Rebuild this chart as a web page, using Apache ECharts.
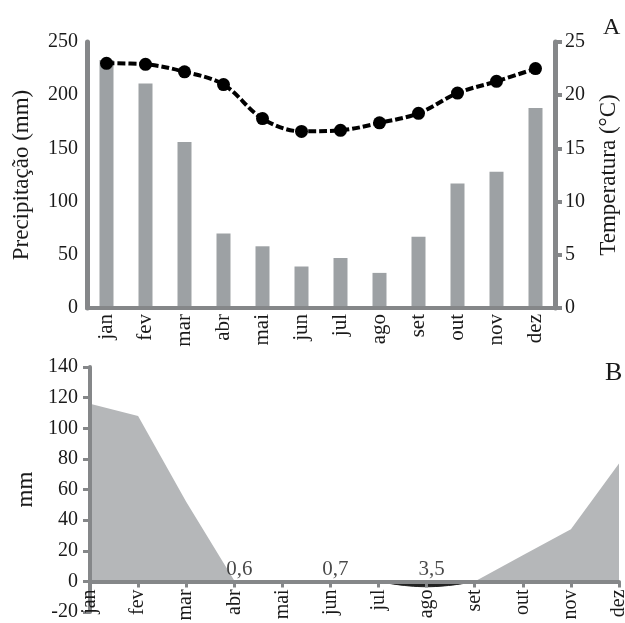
<!DOCTYPE html>
<html>
<head>
<meta charset="utf-8">
<script src="https://cdn.jsdelivr.net/npm/echarts@6/dist/echarts.min.js"></script>
<style>
html,body{margin:0;padding:0;background:#fff;}
#chart{width:625px;height:623px;}
</style>
</head>
<body>
<div id="chart"></div>
<script>
const months = ['jan','fev','mar','abr','mai','jun','jul','ago','set','out','nov','dez'];
const precipitation = [233,211,156,70,58,39,47,33,67,117,128,188];
const temperature = [23.0,22.9,22.2,21.0,17.8,16.6,16.7,17.4,18.3,20.2,21.3,22.5];
const surplus = [116,108,52,0.6,0,0.7,0,0,0,17,34,77];
const deficit = [null,null,null,null,null,null,0,-3.5,0,null,null,null];
const annotLabels = ['','','','0,6','','0,7','','3,5','','','',''];
const precipTicks = [0,50,100,150,200,250];
const tempTicks = [0,5,10,15,20,25];
const balanceTicks = [-20,0,20,40,60,80,100,120,140];

const FONT = 'Liberation Serif';
const AX = '#858789';
const TXT = '#1a1a1a';

const BOTTOM_H = 245;
const balMin = balanceTicks[0], balMax = balanceTicks[balanceTicks.length-1];
// x axis of chart B sits on the zero line
const zeroOffset = -BOTTOM_H * (0 - balMin) / (balMax - balMin);

const chart = echarts.init(document.getElementById('chart'), null, {renderer:'canvas'});
const annotData = annotLabels.map(s => s ? 0 : null);

chart.setOption({
  animation:false,
  backgroundColor:'#fff',
  textStyle:{fontFamily:FONT},
  grid:[
    {left:87, right:70, top:42, height:266, containLabel:false, outerBoundsMode:'none'},
    {left:90, right:6, top:367, height:BOTTOM_H, containLabel:false, outerBoundsMode:'none'}
  ],
  xAxis:[
    {type:'category', gridIndex:0, data:months, boundaryGap:true, z:3,
     axisLine:{lineStyle:{color:AX, width:4}},
     axisTick:{show:false},
     axisLabel:{rotate:90, margin:6, fontSize:21, color:TXT, fontFamily:FONT}},
    {type:'category', gridIndex:1, data:months, boundaryGap:false, position:'bottom', offset:zeroOffset, z:3,
     axisLine:{onZero:false, lineStyle:{color:AX, width:4}},
     axisTick:{show:true, alignWithLabel:true, length:6, lineStyle:{color:AX, width:3}},
     axisLabel:{rotate:90, margin:8, fontSize:20, color:TXT, fontFamily:FONT, interval:0}}
  ],
  yAxis:[
    {type:'value', gridIndex:0, min:precipTicks[0], max:precipTicks[precipTicks.length-1], interval:50,
     name:'Precipitação (mm)', nameLocation:'middle', nameGap:54, nameRotate:90,
     nameTextStyle:{fontSize:23, color:TXT, fontFamily:FONT},
     axisLine:{show:true, lineStyle:{color:AX, width:5, cap:'round'}},
     axisTick:{show:false},
     splitLine:{show:false},
     axisLabel:{margin:9, fontSize:20, color:TXT, fontFamily:FONT}},
    {type:'value', gridIndex:0, position:'right', min:tempTicks[0], max:tempTicks[tempTicks.length-1], interval:5,
     name:'Temperatura (°C)', nameLocation:'middle', nameGap:42, nameRotate:90,
     nameTextStyle:{fontSize:23, color:TXT, fontFamily:FONT},
     axisLine:{show:true, lineStyle:{color:AX, width:5}},
     axisTick:{show:true, length:7, lineStyle:{color:AX, width:4}},
     splitLine:{show:false},
     axisLabel:{margin:10, fontSize:20, color:TXT, fontFamily:FONT}},
    {type:'value', gridIndex:1, min:balMin, max:balMax, interval:20, z:3,
     name:'mm', nameLocation:'middle', nameGap:52, nameRotate:90,
     nameTextStyle:{fontSize:23, color:TXT, fontFamily:FONT},
     axisLine:{show:true, onZero:false, lineStyle:{color:AX, width:4}},
     axisTick:{show:true, length:7, lineStyle:{color:AX, width:3}},
     splitLine:{show:false},
     axisLabel:{margin:12, fontSize:20, color:TXT, fontFamily:FONT}}
  ],
  series:[
    {type:'bar', xAxisIndex:0, yAxisIndex:0, data:precipitation, barWidth:14,
     itemStyle:{color:'#9da1a4'}, z:2},
    {type:'line', xAxisIndex:0, yAxisIndex:1, data:temperature, smooth:0.35,
     symbol:'circle', symbolSize:13, showSymbol:true,
     itemStyle:{color:'#000'},
     lineStyle:{color:'#000', width:4, type:[8,3]}, z:5},
    {type:'line', xAxisIndex:1, yAxisIndex:2, data:surplus, smooth:false,
     symbol:'none', lineStyle:{width:0}, areaStyle:{color:'#b5b7b9', opacity:1}, z:1},
    {type:'line', xAxisIndex:1, yAxisIndex:2, data:deficit, smooth:true, connectNulls:false,
     symbol:'none', lineStyle:{width:1, color:'#222'}, areaStyle:{color:'#222', opacity:1}, z:1},
    {type:'scatter', xAxisIndex:1, yAxisIndex:2, data:annotData, symbolSize:0,
     label:{show:true, position:'top', distance:1, offset:[5,0], fontSize:21, color:TXT, fontFamily:FONT,
       formatter:p => annotLabels[p.dataIndex]}, z:6}
  ],
  graphic:[
    {type:'text', left:603, top:16, style:{text:'A', font:'24px "Liberation Serif"', fill:TXT}},
    {type:'text', left:605, top:360, style:{text:'B', font:'26px "Liberation Serif"', fill:TXT}}
  ]
});
</script>
</body>
</html>
